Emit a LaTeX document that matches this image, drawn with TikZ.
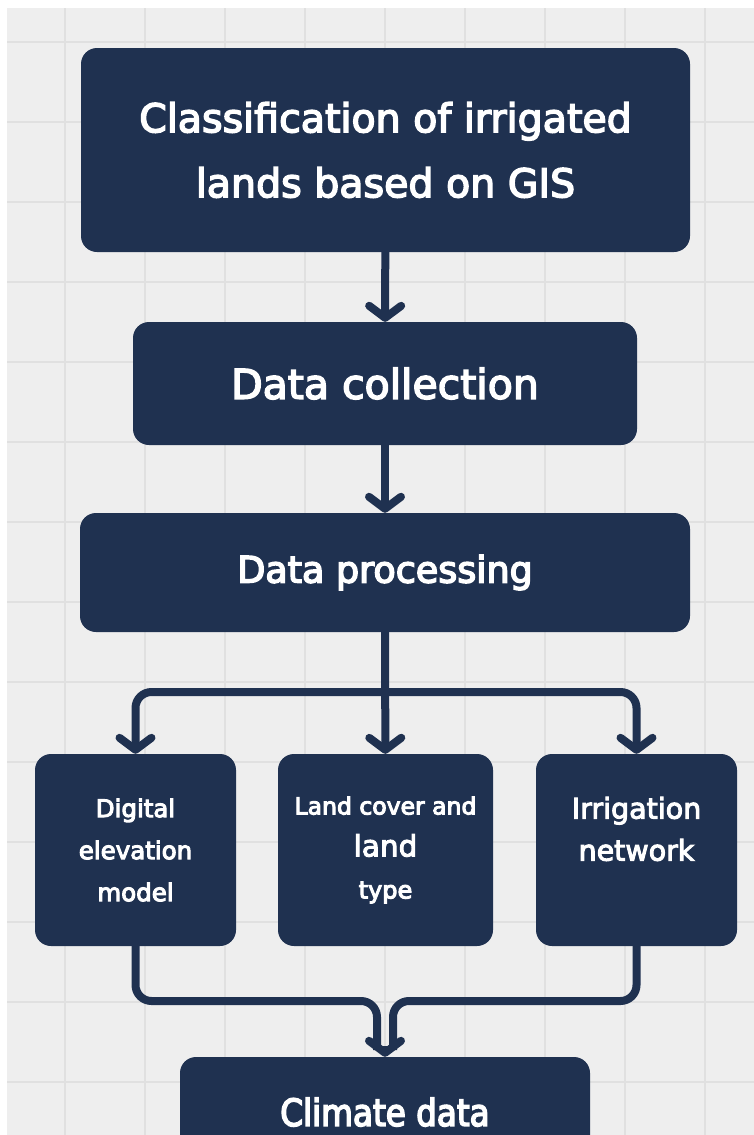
\documentclass[tikz,border=0pt]{standalone}
\usepackage{fontspec}
\setmainfont{DejaVu Sans}
\newfontfamily\narrowfont{DejaVu Sans}[FakeStretch=0.87]
\usetikzlibrary{arrows.meta}
\definecolor{navy}{HTML}{1F3150}
\definecolor{bgc}{HTML}{EEEEEE}
\definecolor{gridc}{HTML}{E0E0E0}
\newcommand\heavy[2]{\special{pdf:literal direct q 2 Tr #1 w}#2\special{pdf:literal direct Q}}
\begin{document}
\begin{tikzpicture}[x=1pt,y=-1pt,
  box/.style={fill=navy, rounded corners=16pt, text=white, align=center, inner sep=0pt},
  gridline/.style={draw=gridc, line width=1.4pt},
  wire/.style={draw=navy, line width=8pt, rounded corners=16pt},
  conn/.style={wire, -{Straight Barb[length=12pt,width=32pt,round]}}]
\useasboundingbox (0,0) rectangle (754,1135);
\clip (0,0) rectangle (754,1135);
\fill[white] (0,0) rectangle (754,1135);
\fill[bgc] (7,8) rectangle (754,1135);
\foreach \x in {65,145,...,705} \draw[gridline] (\x,8) -- (\x,1135);
\foreach \y in {42,122,...,1082} \draw[gridline] (7,\y) -- (754,\y);

\node[box, minimum width=609pt, minimum height=204pt, font=\fontsize{39.5}{65}\selectfont] (title) at (385.5,150)
  {\heavy{1.5}{Classification of irrigated\\lands based on GIS}};
\node[box, minimum width=504pt, minimum height=123pt, font=\fontsize{41}{46}\selectfont] (coll) at (385,383.5)
  {\heavy{1.5}{\raisebox{-3pt}{Data collection}}};
\node[box, minimum width=610pt, minimum height=119pt, font=\fontsize{36.5}{42}\selectfont] (proc) at (385,572.5)
  {\heavy{1.5}{Data processing}};
\node[box, minimum width=201pt, minimum height=192pt, font=\fontsize{24.5}{42}\selectfont] (dem) at (135.5,850)
  {\heavy{1}{Digital\\elevation\\model}};
\node[box, minimum width=215pt, minimum height=192pt, font=\fontsize{23.5}{42}\selectfont] (land) at (385.5,850)
  {\heavy{1}{Land cover and\\{\fontsize{29.5}{42}\selectfont land}\\{\fontsize{24}{42}\selectfont type}}};
\node[box, minimum width=201pt, minimum height=192pt, font=\fontsize{28.5}{42}\selectfont] (irr) at (636.5,850)
  {\heavy{1}{Irrigation\\network\\\phantom{model}}};
\node[box, minimum width=410pt, minimum height=110pt, font=\narrowfont\fontsize{37.5}{44}\selectfont] (clim) at (385,1112)
  {\heavy{1.5}{Climate data}};

\coordinate (br) at (385.5,692);
\coordinate (ml) at (377,1050);
\coordinate (mr) at (393,1050);
\coordinate (mt) at (385,1046);

\draw[conn] (title) -- (coll);
\draw[conn] (coll) -- (proc);
\draw[conn] (proc) -- (land);
\draw[conn] (br) -| (dem.north);
\draw[conn] (br) -| (irr.north);
\draw[wire] (dem.south) |- (377,1001) -- (ml);
\draw[wire] (irr.south) |- (393,1001) -- (mr);
\draw[conn] (mt) -- (clim.north);
\end{tikzpicture}
\end{document}
